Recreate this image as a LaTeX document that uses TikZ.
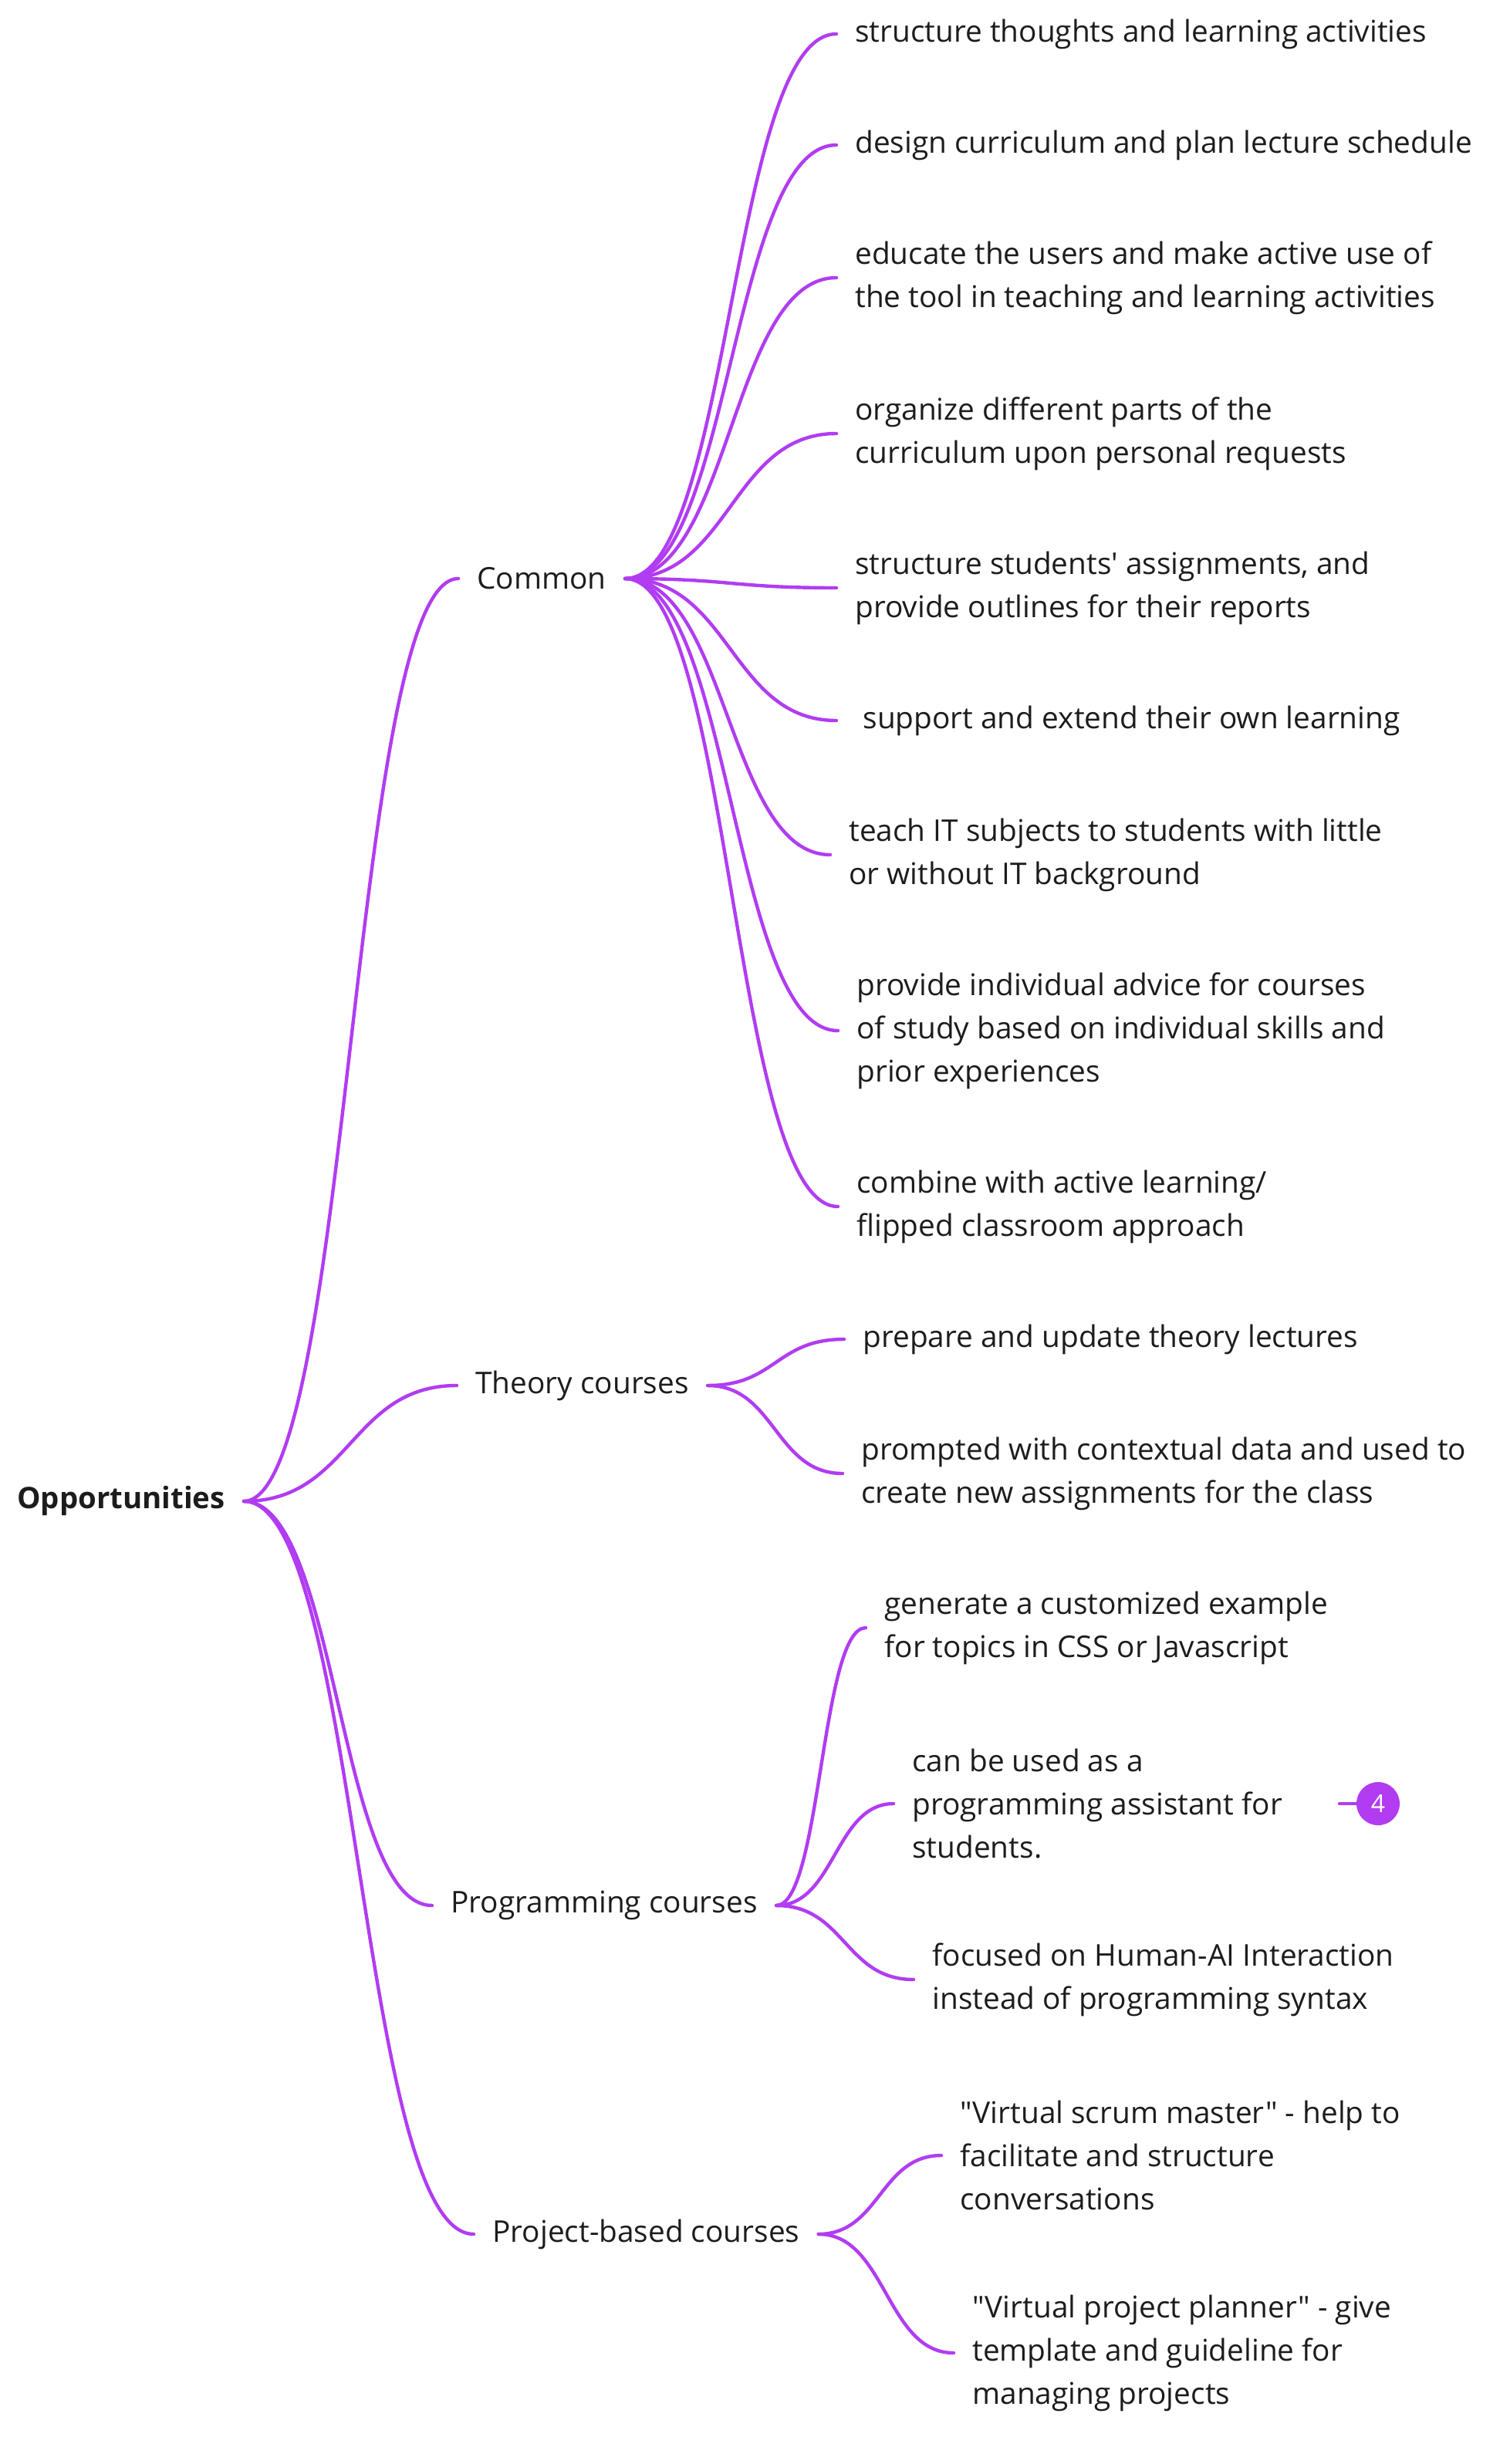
\documentclass[tikz,border=0pt]{standalone}
\usepackage{fontspec}
\setmainfont{Open Sans}[Ligatures=TeXOff]
\usetikzlibrary{calc}
\definecolor{branch}{HTML}{B13CF2}
\definecolor{ink}{HTML}{1C1C1C}
\tikzset{
  leaf/.style={anchor=west, align=left, inner xsep=12pt, inner ysep=2pt,
    text=ink, font=\fontsize{19.4}{28}\selectfont},
  topic/.style={leaf},
  root/.style={leaf, anchor=east, font=\fontsize{19.2}{28}\selectfont\bfseries},
  badge/.style={circle, fill=branch, text=white, minimum size=28pt,
    inner sep=0pt, font=\fontsize{16}{16}\selectfont},
  curve/.style={draw=branch, line width=2.2pt, line cap=round,
    to path={let \p1=(\tikztostart), \p2=(\tikztotarget) in
      .. controls ({(\x1+\x2)/2},\y1) and ({(\x1+\x2)/2},\y2) .. (\tikztotarget)}},
}
\begin{document}
\begin{tikzpicture}[x=1pt,y=-1pt]
  \useasboundingbox (0,0) rectangle (978,1597);

  % Root
  \node[root] (opp) at (158,973) {Opportunities};

  % Course types
  \node[topic] (common) at (297,375) {Common};
  \node[topic] (theory) at (296,898) {Theory courses};
  \node[topic] (prog) at (280,1235) {Programming courses};
  \node[topic] (proj) at (307,1448) {Project-based courses};

  % Common
  \node[leaf] (c1) at (542,22) {structure thoughts and learning activities};
  \node[leaf] (c2) at (542,94) {design curriculum and plan lecture schedule};
  \node[leaf] (c3) at (542,180) {educate the users and make active use of\\the tool in teaching and learning activities};
  \node[leaf] (c4) at (542,281) {organize different parts of the\\curriculum upon personal requests};
  \node[leaf] (c5) at (542,381) {structure students' assignments, and\\provide outlines for their reports};
  \node[leaf] (c6) at (542,467) {\ support and extend their own learning};
  \node[leaf] (c7) at (538,554) {teach IT subjects to students with little\\or without IT background};
  \node[leaf] (c8) at (543,668) {provide individual advice for courses\\of study based on individual skills and\\prior experiences};
  \node[leaf] (c9) at (543,782) {combine with active learning/\\flipped classroom approach};

  % Theory courses
  \node[leaf] (t1) at (547,868) {prepare and update theory lectures};
  \node[leaf] (t2) at (546,955) {prompted with contextual data and used to\\create new assignments for the class};

  % Programming courses
  \node[leaf] (p1) at (561,1055) {generate a customized example\\for topics in CSS or Javascript};
  \node[leaf] (p2) at (579,1169) {can be used as a\\programming assistant for\\students.};
  \node[leaf] (p3) at (592,1283) {focused on Human-AI Interaction\\instead of programming syntax};

  % Project-based courses
  \node[leaf] (j1) at (610,1397) {"Virtual scrum master" - help to\\facilitate and structure\\conversations};
  \node[leaf] (j2) at (618,1525) {"Virtual project planner" - give\\template and guideline for\\managing projects};

  % Note count
  \node[badge] (note) at (893,1169) {4};
  \coordinate (notetip) at (868,1169);
  \draw[branch, line width=2.2pt, line cap=round] (notetip) -- (note);

  % Branches
  \foreach \k in {common,theory,prog,proj}
    \draw[curve] (opp.east) to (\k.west);
  \foreach \i in {1,...,9}
    \draw[curve] (common.east) to (c\i.west);
  \foreach \i in {1,2}
    \draw[curve] (theory.east) to (t\i.west);
  \foreach \i in {1,2,3}
    \draw[curve] (prog.east) to (p\i.west);
  \foreach \i in {1,2}
    \draw[curve] (proj.east) to (j\i.west);
\end{tikzpicture}
\end{document}
